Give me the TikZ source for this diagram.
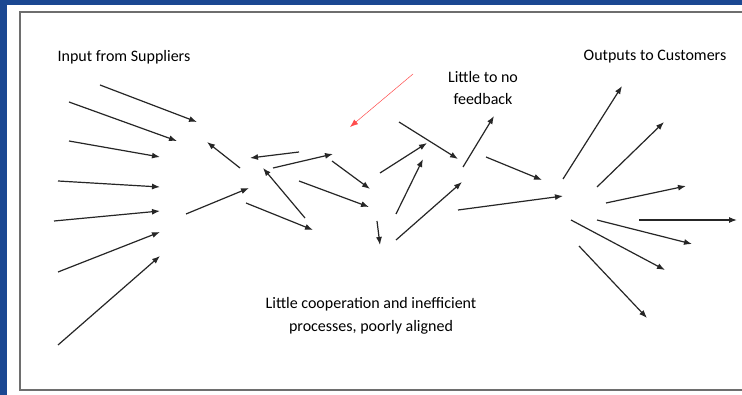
\documentclass[tikz,border=0pt]{standalone}
\usepackage{fontspec}
\setmainfont{Carlito}
\usepackage{tikz}
\usetikzlibrary{arrows.meta}
\tikzset{>={Latex[length=8pt, width=6pt]}}
\definecolor{bgblue}{RGB}{27,72,146}
\definecolor{framegray}{RGB}{110,110,110}

\begin{document}
\begin{tikzpicture}[x=1pt, y=-1pt, flow/.style={->, line width=1.2pt, black!85},
    lbl/.style={font=\fontsize{16}{22}\selectfont, align=center, inner sep=0pt}]
    \useasboundingbox (0, 0) rectangle (742, 395);
    \clip (0, 0) rectangle (742, 395);
    \fill[bgblue] (0, 0) rectangle (742, 395);
    \fill[white] (7, 5) rectangle (750, 400);
    \draw[framegray, line width=1.5pt] (20, 12) rectangle (760, 390);

    \node[lbl] (supp) at (124, 57) {Input from Suppliers};
    \node[lbl] (cust) at (655, 57) {Outputs to Customers};
    \node[lbl] (fdbk) at (483, 88) {Little to no\\feedback};
    \node[lbl, font=\fontsize{16}{23}\selectfont] (coop) at (371, 316) {Little cooperation and inefficient\\processes, poorly aligned};

    \draw[flow](100, 85)--(197, 122);
    \draw[flow](69, 102)--(177, 141);
    \draw[flow](69, 141)--(160, 157);
    \draw[flow](58, 181)--(160, 187);
    \draw[flow](54, 221)--(160, 211);
    \draw[flow](58, 272)--(160, 232);
    \draw[flow](58, 345)--(160, 256);

    \draw[flow](240, 168)--(207, 142);
    \draw[flow](186, 214)--(249, 188);
    \draw[flow](299, 152)--(250, 158);
    \draw[flow](273, 168)--(333, 154);
    \draw[flow](305, 218)--(263, 168);
    \draw[flow](246, 203)--(313, 230);
    \draw[flow](332, 161)--(370, 189);
    \draw[flow](299, 181)--(369, 207);
    \draw[flow](377, 221)--(380, 245);
    \draw[flow](396, 240)--(462, 182);
    \draw[flow](396, 214)--(423, 159);
    \draw[flow](380, 173)--(427, 143);
    \draw[flow](399, 122)--(458, 159);
    \draw[flow](463, 167)--(494, 116);
    \draw[flow](486, 157)--(542, 180);
    \draw[flow](458, 210)--(563, 196);
    \draw[->, red!70, line width=.5pt](413, 74)--(350, 127);

    \draw[flow](563, 179)--(622, 86);
    \draw[flow](597, 187)--(664, 122);
    \draw[flow](606, 203)--(686, 186);
    \draw[flow](639, 220)--(737, 220);
    \draw[flow](597, 220)--(692, 244);
    \draw[flow](571, 220)--(665, 270);
    \draw[flow](579, 246)--(647, 318);
\end{tikzpicture}
\end{document}
